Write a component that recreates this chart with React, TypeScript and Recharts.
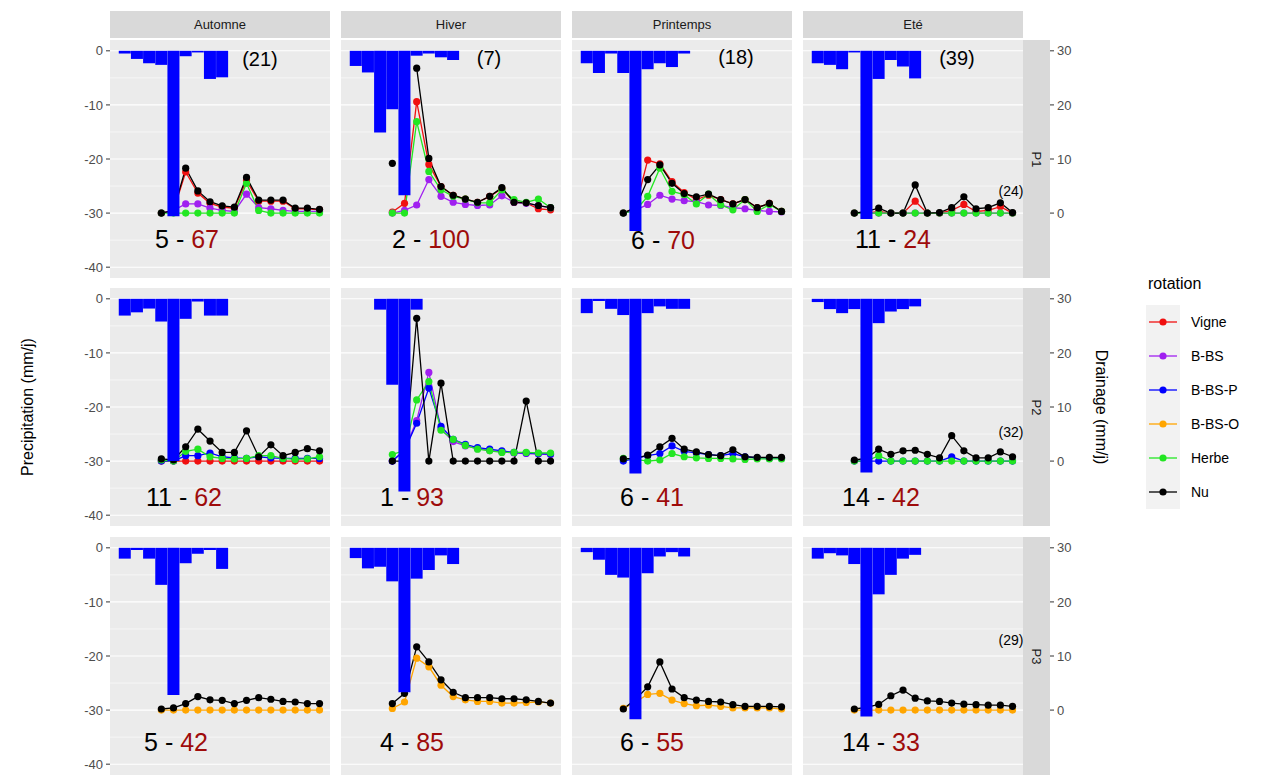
import React from "react";
import { ComposedChart, Bar, Line, XAxis, YAxis, CartesianGrid } from "recharts";

// --- data -------------------------------------------------------------
const seasons = ["Automne", "Hiver", "Printemps", "Eté"];
const plots = ["P1", "P2", "P3"];
const rotations = ["Vigne", "B-BS", "B-BS-P", "B-BS-O", "Herbe", "Nu"];

const allDays = [1, 2, 3, 4, 5, 6, 7, 8, 9, 10, 11, 12, 13, 14, 15, 16, 17];
const precipDays = [1, 2, 3, 4, 5, 6, 7, 8, 9];
const drainDays = [4, 5, 6, 7, 8, 9, 10, 11, 12, 13, 14, 15, 16, 17];

const yTicksPrecip = [-40, -30, -20, -10, 0];
const yTicksDrain = [0, 10, 20, 30];
const xTicks = [3, 6, 9, 12, 15];

// precipitation (mm/j), one array per season: Automne, Hiver, Printemps, Eté
const precipP1 = [
  [-0.5, -1.5, -2.3, -2.6, -30.6, -1.0, -0.3, -5.2, -4.9],
  [-2.8, -4.0, -15.1, -10.8, -26.7, -0.9, -0.5, -1.2, -1.7],
  [-2.3, -4.1, -0.5, -4.1, -33.3, -3.4, -2.3, -3.0, -0.5],
  [-2.3, -2.6, -3.4, -0.3, -31.1, -5.2, -1.7, -2.9, -5.1],
];
const precipP2 = [
  [-3.1, -2.5, -1.8, -4.2, -30.0, -3.7, -0.5, -3.1, -3.1],
  [null, null, -2.0, -15.9, -35.6, -2.0, null, null, null],
  [-2.65, -0.4, -1.85, -3.0, -32.3, -2.65, -1.4, -1.85, -1.85],
  [-0.6, -1.9, -2.65, -1.9, -32.1, -4.5, -2.35, -1.9, -1.4],
];
const precipP3 = [
  [-2.0, -0.4, -2.0, -6.85, -27.2, -2.85, -1.1, -0.4, -3.9],
  [-1.9, -3.8, -3.5, -6.2, -26.7, -5.7, -4.1, -1.4, -3.0],
  [-0.8, -2.2, -5.0, -5.5, -31.7, -4.7, -1.6, -0.8, -1.6],
  [-2.0, -1.0, -1.4, -3.0, -31.2, -8.6, -5.0, -2.0, -1.3],
];

// drainage (mm/j) for days 4..17, one array per season
const vigneP1 = [
  [0, 0.5, 7.6, 3.7, 1.8, 1.1, 0.9, 6.0, 2.2, 2.2, 2.2, 0.8, 0.8, 0.6],
  [0.2, 1.8, 20.6, 9.0, 4.9, 3.3, 2.6, 2.0, 3.1, 4.5, 2.0, 1.9, 0.8, 0.6],
  [0, 1.0, 9.8, 9.1, 5.8, 3.8, 2.5, 3.3, 2.5, 1.7, 2.5, 1.0, 1.8, 0.3],
  [0, 0, 0.3, 0, 0, 2.2, 0, 0, 0.5, 1.6, 0.3, 0.5, 1.2, 0],
];
const bbsP1 = [
  [0, 0.5, 1.7, 1.7, 0.9, 0.5, 0.3, 3.5, 1.0, 0.8, 0.5, 0.3, 0.3, 0.3],
  [0, 0.5, 1.5, 6.2, 3.1, 2.0, 1.6, 1.4, 1.5, 3.2, 2.0, 1.8, 1.4, 1.0],
  [0, 0.5, 1.6, 3.3, 2.6, 2.3, 2.1, 1.5, 1.4, 1.0, 0.8, 0.5, 0.3, 0.2],
  [0, 0, 0, 0, 0, 0, 0, 0, 0, 0, 0, 0, 0, 0],
];
const herbeP1 = [
  [0, 0, 0, 0, 0, 0, 0, 5.5, 0.5, 0, 0, 0, 0, 0],
  [0, 0, 16.9, 7.7, 4.3, 3.1, 2.6, 1.9, 1.9, 4.3, 2.5, 2.0, 2.6, 1.0],
  [0, 0.5, 3.1, 8.3, 4.0, 3.4, 1.7, 3.5, 1.5, 0.6, 2.5, 0.3, 1.6, 0.3],
  [0, 0, 0, 0, 0, 0, 0, 0, 0, 0, 0, 0, 0, 0],
];
const nuP1 = [
  [0, 0.5, 8.3, 4.1, 2.1, 1.35, 1.1, 6.6, 2.4, 2.4, 2.4, 0.9, 0.9, 0.7],
  [9.2, null, 26.8, 10.1, 4.9, 3.3, 2.6, 2.0, 3.1, 4.7, 2.0, 1.9, 1.4, 1.0],
  [0, 1.0, 6.2, 8.9, 5.5, 3.6, 3.0, 3.5, 2.5, 1.7, 2.5, 1.0, 1.8, 0.3],
  [0, 0.3, 0.9, 0, 0, 5.2, 0, 0.1, 1.0, 3.0, 0.8, 1.0, 1.9, 0.1],
];

const vigneP2 = [
  [0, 0, 0, 0, 0, 0, 0, 0, 0, 0, 0, 0, 0, 0],
  null,
  null,
  null,
];
const bbsP2 = [
  null,
  [0, 2.0, 7.5, 16.4, 6.0, 3.6, 2.8, 2.3, 2.0, 1.7, 1.5, 1.4, 1.3, 1.2],
  null,
  null,
];
const bbspP2 = [
  [0, 0, 1.0, 1.0, 1.5, 0.8, 0.6, 0.5, 0.8, 0.6, 0.5, 0.5, 0.5, 0.5],
  [0, 2.0, 7.0, 13.5, 6.4, 4.0, 3.1, 2.5, 2.2, 1.9, 1.6, 1.5, 1.4, 1.3],
  [0, 0.5, 1.0, 1.4, 2.8, 1.8, 1.5, 1.2, 1.0, 1.4, 0.8, 0.6, 0.5, 0.5],
  [0, 0, 0, 0, 0, 0, 0, 0, 0.8, 0, 0, 0, 0, 0],
];
const herbeP2 = [
  [0.2, 0, 1.8, 2.2, 0.8, 0.5, 0.4, 0.5, 1.0, 1.0, 0.5, 0.3, 0.4, 0.8],
  [1.2, 2.0, 11.3, 14.7, 5.7, 4.0, 2.9, 2.2, 1.9, 1.6, 1.6, 1.6, 1.5, 1.5],
  [0.5, 0.3, 0, 0.2, 1.4, 0.8, 0.6, 0.5, 0.5, 0.4, 0.3, 0.4, 0.4, 0.4],
  [0, 0, 1.0, 0, 0, 0, 0, 0, 0, 0, 0, 0, 0, 0],
];
const nuP2 = [
  [0.4, 0.2, 2.65, 5.9, 3.7, 1.6, 1.6, 5.6, 0.8, 3.0, 1.0, 1.6, 2.3, 1.9],
  [0, 0, 26.4, 0, 14.4, 0, 0, 0, 0, 0, 0, 11.1, 0, 0],
  [0.4, 0.5, 1.1, 2.65, 4.2, 2.2, 1.7, 1.2, 1.0, 2.1, 0.8, 0.7, 0.7, 0.7],
  [0.2, 0.5, 2.2, 1.25, 1.9, 2.0, 1.25, 0.6, 4.7, 1.9, 0.6, 0.6, 1.7, 0.8],
];

const bbsoP3 = [
  [0, 0, 0, 0, 0, 0, 0, 0, 0, 0, 0, 0, 0, 0],
  [0.3, 1.5, 9.6, 8.0, 4.6, 2.5, 1.9, 1.6, 1.6, 1.3, 1.3, 1.4, 1.5, 1.3],
  [0.3, 1.5, 2.9, 3.1, 1.85, 1.2, 0.8, 0.9, 0.7, 0.4, 0.4, 0.4, 0.4, 0.2],
  [0, 0, 0, 0, 0, 0, 0, 0, 0, 0, 0, 0, 0, 0],
];
const nuP3 = [
  [0.2, 0.4, 1.2, 2.5, 1.9, 1.8, 1.2, 1.8, 2.3, 2.0, 1.6, 1.5, 1.2, 1.2],
  [1.2, 3.1, 11.7, 8.9, 5.6, 3.3, 2.3, 2.3, 2.3, 2.1, 2.1, 1.9, 1.6, 1.3],
  [0.2, 2.0, 4.3, 8.9, 3.9, 2.3, 1.85, 1.6, 1.5, 1.0, 0.7, 0.7, 0.7, 0.6],
  [0.2, 0.5, 1.05, 2.65, 3.7, 2.2, 1.7, 1.6, 1.3, 1.1, 1.0, 0.9, 0.9, 0.7],
];

// annotations: "n - %" per panel, plus the bracketed notes
const countLabels = [
  ["5", "2", "6", "11"],
  ["11", "1", "6", "14"],
  ["5", "4", "6", "14"],
];
const pctLabels = [
  ["67", "100", "70", "24"],
  ["62", "93", "41", "42"],
  ["42", "85", "55", "33"],
];
const topNotes = ["(21)", "(7)", "(18)", "(39)"];
const sideNotes = ["(24)", "(32)", "(29)"];

const precipByPlot = [precipP1, precipP2, precipP3];
const drainByPlot: Record<string, any>[] = [
  { Vigne: vigneP1, "B-BS": bbsP1, Herbe: herbeP1, Nu: nuP1 },
  { Vigne: vigneP2, "B-BS": bbsP2, "B-BS-P": bbspP2, Herbe: herbeP2, Nu: nuP2 },
  { "B-BS-O": bbsoP3, Nu: nuP3 },
];

// --- layout / style ---------------------------------------------------
const COLORS: Record<string, string> = {
  Vigne: "#F01010",
  "B-BS": "#A020F0",
  "B-BS-P": "#0000FF",
  "B-BS-O": "#FFA500",
  Herbe: "#22E622",
  Nu: "#000000",
};
const PANEL_LEFT = [110, 341, 572, 803];
const PANEL_TOP = [40, 288, 537];
const PANEL_W = 220;
const PANEL_H = 238;
const X_DOMAIN: [number, number] = [-0.22, 17.86];
const PX_PER_DAY = PANEL_W / (X_DOMAIN[1] - X_DOMAIN[0]);
const STRIP = 27;
const FONT = "'Liberation Sans', Arial, sans-serif";
const DARKRED = "#9E0B0B";
const DOT_R = 3.6;
const LINE_W = 1.3;

const mainLabelPos = [
  [[77, 199], [90, 199], [91, 200], [90, 199]],
  [[74, 209], [71, 209], [80, 209], [78, 209]],
  [[66, 205], [71, 205], [80, 205], [78, 205]],
];
const topNotePos = [[150, 19], [148, 18], [164, 17], [154, 18]];
const sideNotePos = [[208, 151], [208, 144], [208, 103]];

function buildRows(p: number, s: number) {
  return allDays.map((d) => {
    const row: Record<string, number | null> = { day: d };
    const pi = precipDays.indexOf(d);
    row.precip = pi >= 0 ? precipByPlot[p][s][pi] : null;
    const di = drainDays.indexOf(d);
    rotations.forEach((r) => {
      const series = drainByPlot[p][r];
      row[r] = series && series[s] && di >= 0 ? series[s][di] : null;
    });
    return row;
  });
}

function RightTick(props: any) {
  const { x, y, payload } = props;
  return (
    <g>
      <line x1={x + STRIP} x2={x + STRIP + 4} y1={y} y2={y} stroke="#333333" />
      <text x={x + STRIP + 7} y={y} dy="0.36em" fill="#4D4D4D" fontSize={13} fontFamily={FONT}>
        {payload.value}
      </text>
    </g>
  );
}

function Panel({ p, s }: { p: number; s: number }) {
  const firstCol = s === 0;
  const lastCol = s === 3;
  const bottom = p === 2;
  const leftW = firstCol ? 70 : 0;
  const rightW = lastCol ? 62 : 0;
  const bottomH = bottom ? 7 : 0;
  const data = buildRows(p, s);
  const shown = rotations.filter((r) => {
    const series = drainByPlot[p][r];
    return series && series[s];
  });

  return (
    <div style={{ position: "absolute", left: PANEL_LEFT[s] - leftW, top: PANEL_TOP[p] }}>
      <ComposedChart
        width={leftW + PANEL_W + rightW}
        height={PANEL_H + bottomH}
        data={data}
        margin={{ top: 0, right: 0, bottom: 0, left: 0 }}
        barCategoryGap={0}
        barGap={0}
      >
        <CartesianGrid
          yAxisId="p"
          horizontalValues={[-35, -25, -15, -5]}
          verticalValues={[0, 1.5, 4.5, 7.5, 10.5, 13.5, 16.5]}
          stroke="#FFFFFF"
          strokeWidth={0.55}
          fill="#EBEBEB"
          fillOpacity={1}
        />
        <CartesianGrid
          yAxisId="p"
          horizontalValues={yTicksPrecip}
          verticalValues={xTicks}
          stroke="#FFFFFF"
          strokeWidth={1.1}
        />
        <XAxis
          dataKey="day"
          type="number"
          domain={X_DOMAIN}
          allowDataOverflow
          ticks={xTicks}
          hide={!bottom}
          height={bottomH}
          tick={false}
          tickSize={4}
          axisLine={false}
          tickLine={{ stroke: "#333333" }}
        />
        <YAxis
          yAxisId="p"
          type="number"
          domain={[-42, 2]}
          allowDataOverflow
          ticks={yTicksPrecip}
          hide={!firstCol}
          width={leftW}
          tickSize={4}
          tickMargin={3}
          axisLine={false}
          tickLine={{ stroke: "#333333" }}
          tick={{ fill: "#4D4D4D", fontSize: 13, fontFamily: FONT }}
        />
        <YAxis
          yAxisId="d"
          orientation="right"
          type="number"
          domain={[-12, 32]}
          allowDataOverflow
          ticks={yTicksDrain}
          hide={!lastCol}
          width={rightW}
          tickSize={0}
          tickMargin={0}
          axisLine={false}
          tickLine={false}
          tick={(props: any) => <RightTick {...props} />}
        />
        {shown.map((r) => (
          <Line
            key={r}
            yAxisId="d"
            dataKey={r}
            type="linear"
            stroke={COLORS[r]}
            strokeWidth={LINE_W}
            dot={{ r: DOT_R, fill: COLORS[r], stroke: COLORS[r], strokeWidth: 0 }}
            activeDot={false}
            connectNulls={false}
            isAnimationActive={false}
          />
        ))}
        <Bar
          yAxisId="p"
          dataKey="precip"
          fill="#0000FF"
          barSize={PX_PER_DAY - 0.15}
          isAnimationActive={false}
          zIndex={900}
        />
      </ComposedChart>
    </div>
  );
}

function LegendKey({ color }: { color: string }) {
  return (
    <svg width={34} height={34} style={{ display: "block" }}>
      <rect x={0} y={0} width={34} height={34} fill="#F2F2F2" />
      <line x1={3} x2={31} y1={17} y2={17} stroke={color} strokeWidth={LINE_W} />
      <circle cx={17} cy={17} r={DOT_R} fill={color} />
    </svg>
  );
}

export default function App() {
  const text = (extra: React.CSSProperties): React.CSSProperties => ({
    position: "absolute",
    whiteSpace: "nowrap",
    lineHeight: 1,
    fontFamily: FONT,
    ...extra,
  });

  return (
    <div
      style={{
        position: "absolute",
        left: 0,
        top: 0,
        width: 1261,
        height: 782,
        overflow: "hidden",
        background: "#FFFFFF",
        fontFamily: FONT,
      }}
    >
      {plots.map((_, p) => seasons.map((__, s) => <Panel key={`${p}-${s}`} p={p} s={s} />))}

      {/* season strips */}
      {seasons.map((name, s) => (
        <div
          key={name}
          style={{
            position: "absolute",
            left: PANEL_LEFT[s],
            top: PANEL_TOP[0] - STRIP - 2,
            width: PANEL_W,
            height: STRIP,
            background: "#D9D9D9",
            color: "#1A1A1A",
            fontSize: 13,
            display: "flex",
            alignItems: "center",
            justifyContent: "center",
          }}
        >
          {name}
        </div>
      ))}

      {/* plot strips */}
      {plots.map((name, p) => (
        <div
          key={name}
          style={{
            position: "absolute",
            left: PANEL_LEFT[3] + PANEL_W,
            top: PANEL_TOP[p],
            width: STRIP,
            height: PANEL_H,
            background: "#D9D9D9",
            color: "#1A1A1A",
            fontSize: 13,
            display: "flex",
            alignItems: "center",
            justifyContent: "center",
          }}
        >
          <span style={{ transform: "rotate(90deg)", display: "inline-block" }}>{name}</span>
        </div>
      ))}

      {/* panel annotations */}
      {plots.map((_, p) =>
        seasons.map((__, s) => (
          <div
            key={`lab-${p}-${s}`}
            style={text({
              left: PANEL_LEFT[s] + mainLabelPos[p][s][0],
              top: PANEL_TOP[p] + mainLabelPos[p][s][1],
              transform: "translate(-50%, -50%)",
              fontSize: 25,
              color: "#000000",
            })}
          >
            {countLabels[p][s]} - <span style={{ color: DARKRED }}>{pctLabels[p][s]}</span>
          </div>
        ))
      )}
      {topNotes.map((t, s) => (
        <div
          key={`top-${s}`}
          style={text({
            left: PANEL_LEFT[s] + topNotePos[s][0],
            top: PANEL_TOP[0] + topNotePos[s][1],
            transform: "translate(-50%, -50%)",
            fontSize: 20,
            color: "#000000",
          })}
        >
          {t}
        </div>
      ))}
      {sideNotes.map((t, p) => (
        <div
          key={`side-${p}`}
          style={text({
            left: PANEL_LEFT[3] + sideNotePos[p][0],
            top: PANEL_TOP[p] + sideNotePos[p][1],
            transform: "translate(-50%, -50%)",
            fontSize: 14,
            color: "#000000",
          })}
        >
          {t}
        </div>
      ))}

      {/* axis titles */}
      <div
        style={text({
          left: 28,
          top: 407,
          transform: "translate(-50%, -50%) rotate(-90deg)",
          fontSize: 16,
          color: "#000000",
        })}
      >
        Precipitation (mm/j)
      </div>
      <div
        style={text({
          left: 1101,
          top: 407,
          transform: "translate(-50%, -50%) rotate(90deg)",
          fontSize: 16,
          color: "#000000",
        })}
      >
        Drainage (mm/j)
      </div>

      {/* legend */}
      <div style={text({ left: 1148, top: 276, fontSize: 16, color: "#000000" })}>rotation</div>
      {rotations.map((r, i) => (
        <div key={r} style={{ position: "absolute", left: 1146, top: 305 + i * 34, display: "flex", alignItems: "center" }}>
          <LegendKey color={COLORS[r]} />
          <span style={{ marginLeft: 11, fontSize: 14, color: "#000000", fontFamily: FONT }}>{r}</span>
        </div>
      ))}
    </div>
  );
}
